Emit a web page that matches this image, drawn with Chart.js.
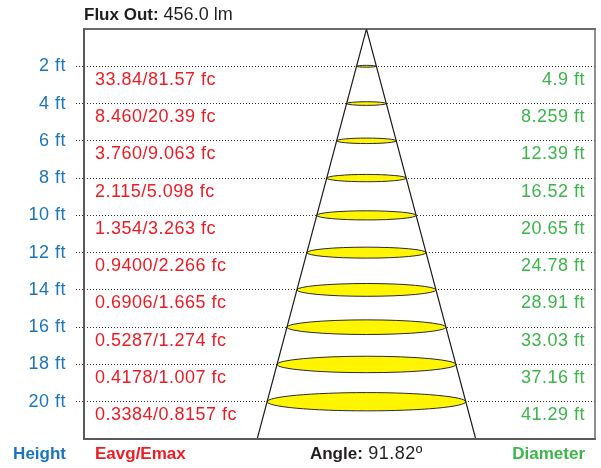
<!DOCTYPE html>
<html>
<head>
<meta charset="utf-8">
<script src="https://cdn.jsdelivr.net/npm/chart.js@4.4.1/dist/chart.umd.min.js"></script>
<style>
  html, body { margin: 0; padding: 0; background: #ffffff; }
  #wrap { width: 601px; height: 468px; }
</style>
</head>
<body>
<div id="wrap"><canvas id="c" width="601" height="468"></canvas></div>
<script>
// ---- data ----
const heights = [2, 4, 6, 8, 10, 12, 14, 16, 18, 20];             // ft
const illuminance = ["33.84/81.57 fc", "8.460/20.39 fc", "3.760/9.063 fc", "2.115/5.098 fc",
  "1.354/3.263 fc", "0.9400/2.266 fc", "0.6906/1.665 fc", "0.5287/1.274 fc",
  "0.4178/1.007 fc", "0.3384/0.8157 fc"];
const diameterLabels = ["4.9 ft", "8.259 ft", "12.39 ft", "16.52 ft", "20.65 ft",
  "24.78 ft", "28.91 ft", "33.03 ft", "37.16 ft", "41.29 ft"];
const spotDiameters = [4.13, 8.259, 12.39, 16.52, 20.65, 24.78, 28.91, 33.03, 37.16, 41.29]; // ft, drawn ellipse widths
const coneX = [-22.71, 0, 22.71];   // ft
const coneY = [22, 0, 22];          // ft (height below fixture)
const fluxOut = "456.0 lm";
const beamAngle = "91.82º";

const BLUE = '#1b75bc', RED = '#ed1c24', GREEN = '#3cb54a', DARK = '#231f20';
const FONT = '"Liberation Sans", Arial, sans-serif';

const overlay = {
  id: 'overlay',
  beforeDraw(chart) {
    chart.ctx.letterSpacing = '0.5px';
  },
  beforeDatasetsDraw(chart) {
    const ctx = chart.ctx, xs = chart.scales.x, ys = chart.scales.y;
    ctx.save();
    heights.forEach((h, i) => {
      const cx = xs.getPixelForValue(0);
      const cy = ys.getPixelForValue(h);
      const rx = Math.abs(xs.getPixelForValue(spotDiameters[i] / 2) - cx);
      const ry = rx * 0.092;
      ctx.beginPath();
      ctx.ellipse(cx, cy, rx, ry, 0, 0, Math.PI * 2);
      ctx.fillStyle = '#fff500';
      ctx.fill();
      ctx.lineWidth = 1;
      ctx.strokeStyle = '#2a2a2a';
      ctx.stroke();
    });
    ctx.restore();
  },
  afterDraw(chart) {
    const ctx = chart.ctx, xs = chart.scales.x, ys = chart.scales.y;
    const a = chart.chartArea;
    ctx.save();
    // frame
    ctx.lineCap = 'square';
    ctx.strokeStyle = '#3a3a3a'; ctx.lineWidth = 1.5;
    ctx.beginPath(); ctx.moveTo(a.left, a.top); ctx.lineTo(a.right, a.top); ctx.stroke();
    ctx.strokeStyle = '#5a5a5a'; ctx.lineWidth = 2;
    ctx.beginPath(); ctx.moveTo(a.left, a.top); ctx.lineTo(a.left, a.bottom); ctx.lineTo(a.right, a.bottom); ctx.stroke();
    ctx.strokeStyle = '#6a6a6a'; ctx.lineWidth = 1.5;
    ctx.beginPath(); ctx.moveTo(a.right, a.top); ctx.lineTo(a.right, a.bottom); ctx.stroke();

    ctx.textBaseline = 'alphabetic';
    const reg = '18px ' + FONT, bold = 'bold 17px ' + FONT;
    // row labels
    heights.forEach((h, i) => {
      const y = ys.getPixelForValue(h) + 18.5;
      ctx.font = reg; ctx.letterSpacing = '0.5px';
      ctx.fillStyle = RED; ctx.textAlign = 'left';
      ctx.fillText(illuminance[i], a.left + 11, y);
      ctx.fillStyle = GREEN; ctx.textAlign = 'right';
      ctx.fillText(diameterLabels[i], a.right - 10, y);
    });
    // title
    ctx.textAlign = 'left';
    ctx.font = bold; ctx.letterSpacing = '0px'; ctx.fillStyle = DARK;
    const t1 = 'Flux Out:';
    ctx.fillText(t1, a.left, 20);
    const w1 = ctx.measureText(t1).width;
    ctx.font = reg; ctx.letterSpacing = '0px';
    ctx.fillText(' ' + fluxOut, a.left + w1, 20);
    // bottom headers
    const by = 459;
    ctx.font = bold; ctx.letterSpacing = '0px';
    ctx.fillStyle = BLUE; ctx.textAlign = 'right';
    ctx.fillText('Height', 66, by);
    ctx.fillStyle = RED; ctx.textAlign = 'left';
    ctx.fillText('Eavg/Emax', a.left + 11, by);
    ctx.fillStyle = GREEN; ctx.textAlign = 'right';
    ctx.fillText('Diameter', a.right - 10, by);
    // angle, centred on apex
    const ax = xs.getPixelForValue(0);
    ctx.textAlign = 'left'; ctx.fillStyle = DARK;
    ctx.font = bold; ctx.letterSpacing = '0px';
    const b1 = 'Angle:';
    const bw = ctx.measureText(b1).width;
    ctx.font = reg; ctx.letterSpacing = '0.5px';
    const b2 = ' ' + beamAngle;
    const bw2 = ctx.measureText(b2).width;
    const sx = ax - (bw + bw2) / 2;
    ctx.font = bold; ctx.letterSpacing = '0px';
    ctx.fillText(b1, sx, by);
    ctx.font = reg; ctx.letterSpacing = '0.5px';
    ctx.fillText(b2, sx + bw, by);
    ctx.restore();
  }
};

new Chart(document.getElementById('c'), {
  type: 'scatter',
  data: {
    datasets: [{
      type: 'line',
      data: coneX.map((x, i) => ({ x: x, y: coneY[i] })),
      borderColor: DARK,
      borderWidth: 1.2,
      pointRadius: 0,
      fill: false,
      tension: 0
    }]
  },
  options: {
    responsive: false,
    animation: false,
    events: [],
    layout: { padding: { top: 29, right: 6, bottom: 29, left: 0 } },
    plugins: { legend: { display: false }, tooltip: { enabled: false }, title: { display: false } },
    scales: {
      x: { type: 'linear', min: -58.7, max: 47.5, display: false },
      y: {
        type: 'linear', reverse: true, min: 0, max: 22,
        afterFit(scale) { scale.width = 84; },
        afterBuildTicks(scale) { scale.ticks = heights.map(v => ({ value: v })); },
        border: { display: false, dash: [1, 2] },
        grid: {
          color: '#333333', lineWidth: 1,
          tickLength: 8, tickColor: '#333333', tickBorderDash: [1, 2]
        },
        ticks: {
          color: BLUE, padding: 10,
          font: { family: FONT, size: 18 },
          callback: v => v + ' ft'
        }
      }
    }
  },
  plugins: [overlay]
});
</script>
</body>
</html>
